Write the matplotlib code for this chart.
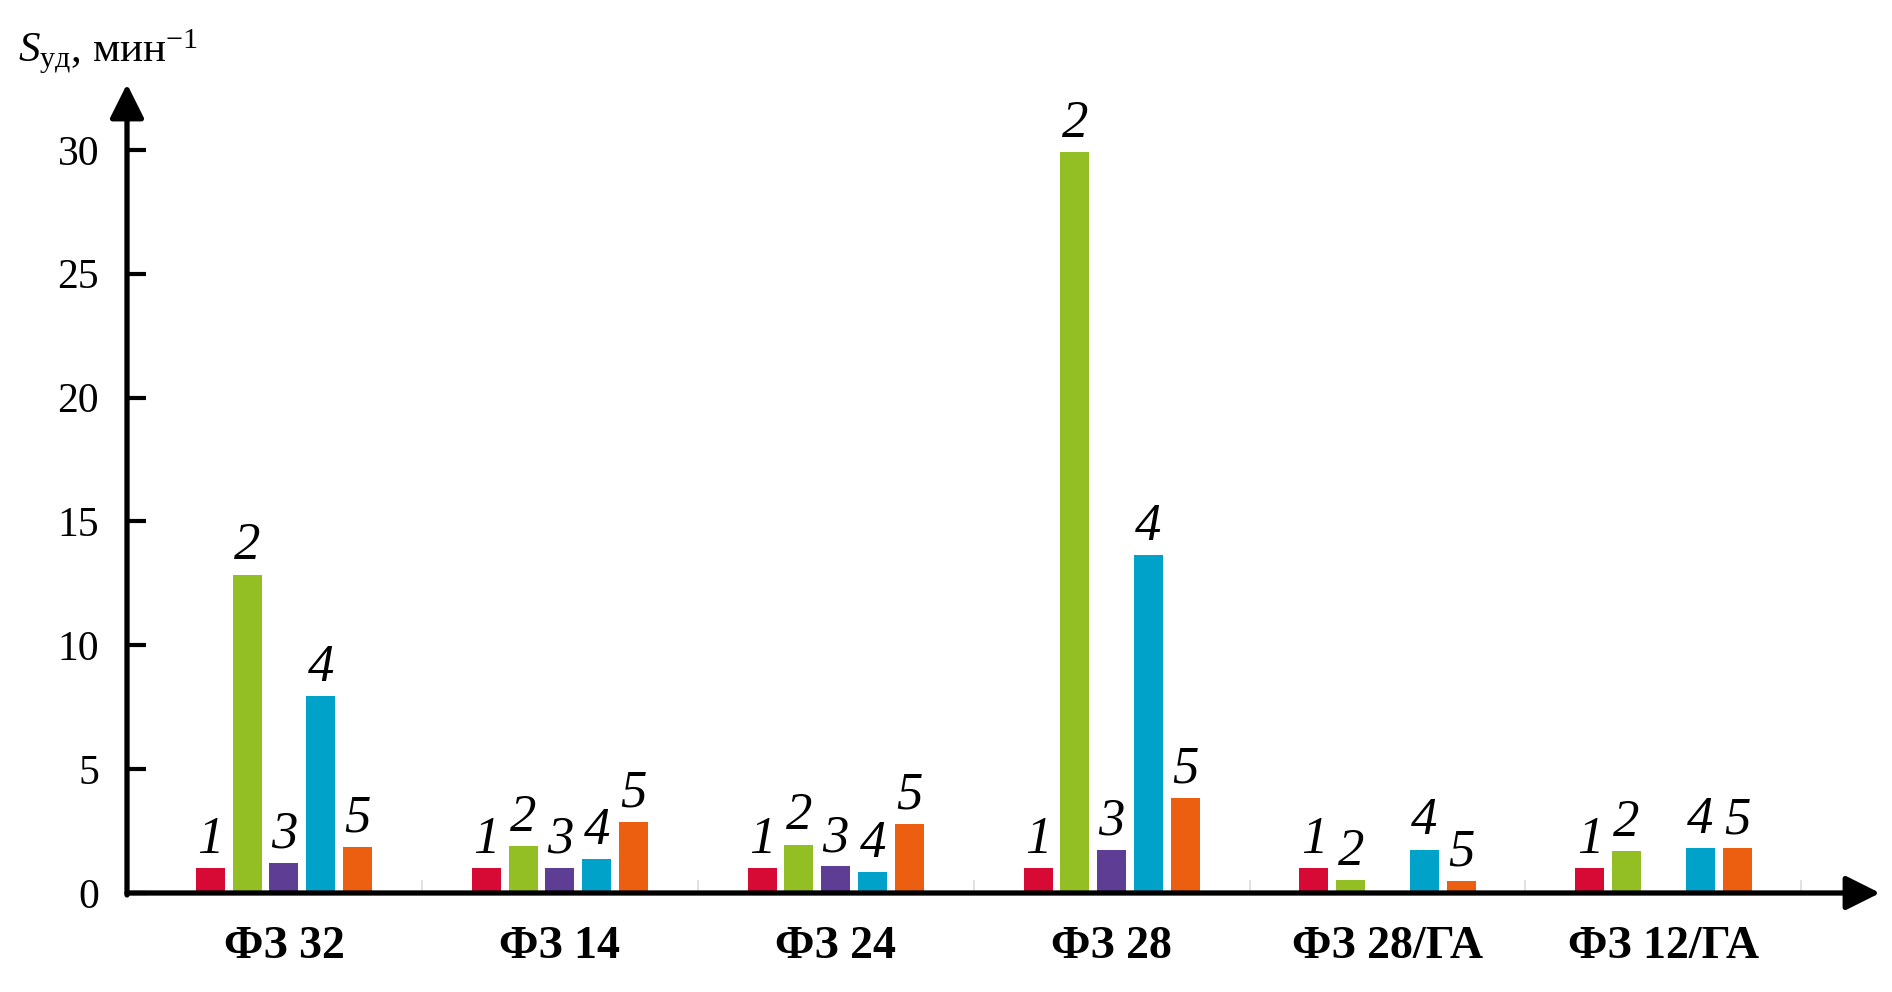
import numpy as np
import matplotlib
matplotlib.use('Agg')
import matplotlib.pyplot as plt
from matplotlib.patches import FancyArrowPatch
from matplotlib.patches import ArrowStyle

# ---- data ----
categories = ['ФЗ 32', 'ФЗ 14', 'ФЗ 24', 'ФЗ 28', 'ФЗ 28/ГА', 'ФЗ 12/ГА']
series_labels = ['1', '2', '3', '4', '5']
s1 = [1.0, 1.0, 1.0, 1.0, 1.0, 1.0]
s2 = [12.85, 1.9, 1.95, 29.9, 0.53, 1.7]
s3 = [1.22, 1.0, 1.07, 1.75, np.nan, np.nan]
s4 = [7.95, 1.36, 0.83, 13.65, 1.75, 1.8]
s5 = [1.85, 2.87, 2.78, 3.85, 0.49, 1.8]
series = [s1, s2, s3, s4, s5]
yticks = [0, 5, 10, 15, 20, 25, 30]

colors = ['#D70A35', '#93BF24', '#5E3D94', '#00A2C9', '#EC5E10']

plt.rcParams['font.family'] = ['Liberation Serif', 'DejaVu Serif']
plt.rcParams['mathtext.fontset'] = 'custom'
plt.rcParams['mathtext.rm'] = 'Liberation Serif'
plt.rcParams['mathtext.it'] = 'Liberation Serif:italic'

fig = plt.figure(figsize=(18.92, 9.92), dpi=100)
ax = fig.add_axes([127/1892, (992-893)/992, (1880-127)/1892, (893-84)/992])

x = np.arange(len(categories))
pitch = 0.1334
width = 0.105
for k, (vals, col, lab) in enumerate(zip(series, colors, series_labels)):
    pos = x + (k - 2) * pitch
    ax.bar(pos, vals, width=width, color=col, zorder=2)
    for px, v in zip(pos, vals):
        if np.isnan(v):
            continue
        ax.annotate(lab, (px, v), xytext=(0, 11), textcoords='offset points',
                    ha='center', va='baseline', fontsize=38, style='italic',
                    family='Liberation Serif')

xl, xr = -0.569, 5.785
yb, yt = 0, 32.66
ax.set_xlim(xl, xr)
ax.set_ylim(yb, yt)
for s in ax.spines.values():
    s.set_visible(False)

# separators
for b in np.arange(0.5, len(categories), 1.0):
    ax.plot([b, b], [0, 0.5], color='#dcdcdc', lw=1.2, zorder=1)

# axes arrows
style = ArrowStyle('-|>', head_length=0.4, head_width=0.2)
ax.add_patch(FancyArrowPatch((xl, 0), (xr, 0), arrowstyle=style, mutation_scale=52,
                             lw=3.8, color='black', shrinkA=0, shrinkB=0,
                             clip_on=False, zorder=5))
ax.add_patch(FancyArrowPatch((xl, -0.08), (xl, yt), arrowstyle=style, mutation_scale=52,
                             lw=3.8, color='black', shrinkA=0, shrinkB=0,
                             clip_on=False, zorder=5))

ax.set_yticks(yticks)
ax.set_yticklabels([str(t) for t in yticks], fontsize=30)
ax.tick_params(axis='y', direction='in', length=14, width=3, pad=20, color='black')
ax.set_xticks(x)
ax.set_xticklabels(categories, fontsize=33, fontweight='bold')
ax.tick_params(axis='x', length=0, pad=24)

fig.text(18/1892, (992-62)/992, r'$S_{\mathrm{уд}}$, мин$^{-1}$', fontsize=31,
         ha='left', va='baseline')

fig.savefig('out.png', dpi=100)
